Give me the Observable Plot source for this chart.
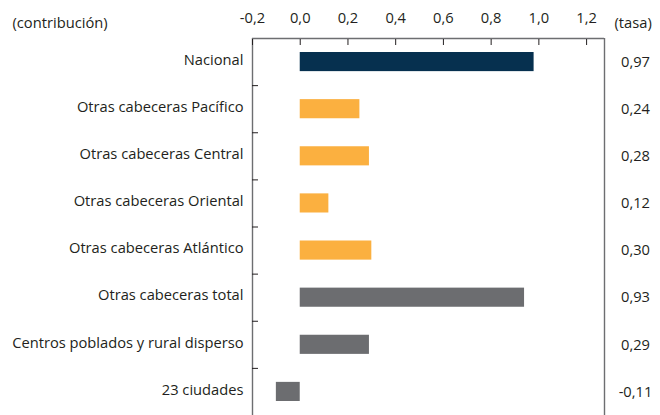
<!DOCTYPE html>
<html><head><meta charset="utf-8">
<script src="https://cdn.jsdelivr.net/npm/d3@7"></script>
<script src="https://cdn.jsdelivr.net/npm/@observablehq/plot@0.6"></script>
<style>body{margin:0;background:#fff}</style>
</head><body><div id="chart"></div>
<script>
const categories = [
  "Nacional",
  "Otras cabeceras Pacífico",
  "Otras cabeceras Central",
  "Otras cabeceras Oriental",
  "Otras cabeceras Atlántico",
  "Otras cabeceras total",
  "Centros poblados y rural disperso",
  "23 ciudades"
];
const contribucion = [0.98, 0.25, 0.29, 0.12, 0.30, 0.94, 0.29, -0.10];
const tasa = [0.97, 0.24, 0.28, 0.12, 0.30, 0.93, 0.29, -0.11];
const groups = ["nacional", "regional", "regional", "regional", "regional", "agregado", "agregado", "agregado"];
const groupColors = ["#06304f", "#fbb040", "#6c6d70"];
const groupNames = ["nacional", "regional", "agregado"];
const xTicks = [-0.2, 0, 0.2, 0.4, 0.6, 0.8, 1.0, 1.2];
const xDomain = [-0.2, 1.275];
const leftLabel = "(contribución)";
const rightLabel = "(tasa)";

const rows = categories.map((c, i) => ({i, c, v: contribucion[i], t: tasa[i], g: groups[i]}));
const idx = categories.map((c, i) => i);
const bounds = idx.slice(0, -1).map(i => i + 0.5);
const fmt1 = d => d.toFixed(1).replace(".", ",");
const fmt2 = d => d.toFixed(2).replace(".", ",");

const frameColor = "#6d6e71";
const ink = "#231f20";
const fs = 14.7;

const chart = Plot.plot({
  width: 660,
  height: 415,
  marginLeft: 252,
  marginRight: 56,
  marginTop: 38,
  marginBottom: 0,
  style: {fontFamily: "Open Sans", fontSize: fs + "px", color: ink, background: "#fff"},
  x: {domain: xDomain, label: null},
  y: {domain: [-0.5, idx.length - 0.5], reverse: true, label: null},
  color: {domain: groupNames, range: groupColors},
  marks: [
    Plot.rectX(rows, {x1: 0, x2: "v", y1: d => d.i - 0.5, y2: d => d.i + 0.5, insetTop: 14, insetBottom: 14, fill: "g"}),
    Plot.ruleX(xDomain, {stroke: frameColor, strokeWidth: 1.4}),
    Plot.ruleY([-0.5], {stroke: frameColor, strokeWidth: 1.4}),
    Plot.axisX({anchor: "top", ticks: xTicks, tickSize: 0, tickPadding: 16, tickFormat: fmt1, fontSize: fs, label: null}),
    Plot.axisX({anchor: "top", ticks: xTicks, tickSize: 6, dy: 6, tickFormat: () => "", stroke: ink, label: null}),
    Plot.axisY({anchor: "left", ticks: idx, tickSize: 0, tickPadding: 9, tickFormat: i => categories[i], fontSize: fs, dy: -2, label: null}),
    Plot.axisY({anchor: "left", ticks: bounds, tickSize: 6, dx: 6, tickFormat: () => "", stroke: ink, label: null}),
    Plot.text(rows, {y: "i", text: d => fmt2(d.t), frameAnchor: "right", dx: 31, textAnchor: "middle", fontSize: fs}),
    Plot.text([leftLabel], {frameAnchor: "top-left", dx: -240, dy: -21, textAnchor: "start", fontSize: fs}),
    Plot.text([rightLabel], {frameAnchor: "top-right", dx: 10, dy: -21, textAnchor: "start", fontSize: fs})
  ]
});
document.getElementById("chart").append(chart);
</script>
</body></html>
